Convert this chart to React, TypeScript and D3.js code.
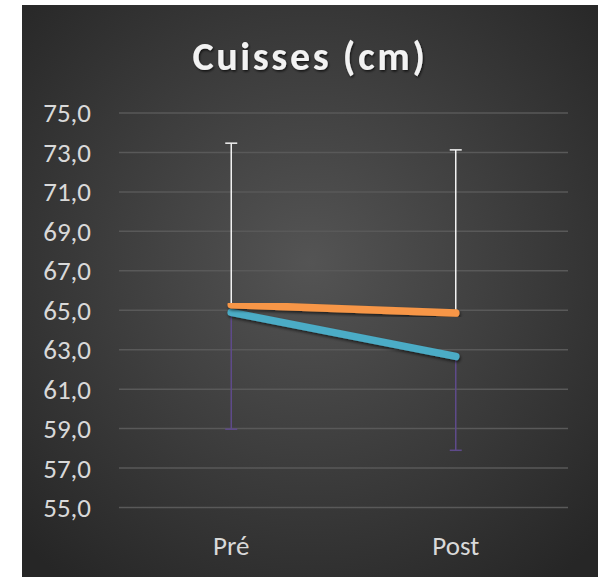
import React from "react";
import * as d3 from "d3";

const categories = ["Pré", "Post"];
const seriesOrange = [65.28, 64.86];
const seriesBlue = [64.89, 62.66];
const errOrangeUp = [8.19, 8.27];
const errBlueDown = [5.92, 4.76];
const yTicks = [55, 57, 59, 61, 63, 65, 67, 69, 71, 73, 75];
const title = "Cuisses (cm)";

export default function App() {
  const W = 602, H = 577;
  const bg = { x: 22, y: 5, w: 576, h: 572 };
  const x = d3.scaleBand().domain(categories).range([119, 568]);
  const y = d3.scaleLinear().domain([55, 75]).range([507.5, 113]);
  const cx = (c: string) => (x(c) as number) + x.bandwidth() / 2;
  const line = d3.line<number>().x((_, i) => cx(categories[i])).y((v) => y(v));
  const font = "Carlito, 'Open Sans', 'Noto Sans', sans-serif";
  const capW = 6;
  return (
    <svg width={W} height={H} style={{ position: "absolute", left: 0, top: 0 }}>
      <defs>
        <radialGradient id="bgGrad" cx="50%" cy="45%" r="70%">
          <stop offset="0%" stopColor="#545454" />
          <stop offset="100%" stopColor="#262626" />
        </radialGradient>
        <filter id="shadow" x="-20%" y="-20%" width="140%" height="160%">
          <feDropShadow dx="1" dy="2" stdDeviation="1.5" floodColor="#000" floodOpacity="0.6" />
        </filter>
        <filter id="tshadow" x="-10%" y="-20%" width="120%" height="160%">
          <feDropShadow dx="1" dy="1.5" stdDeviation="1.2" floodColor="#000" floodOpacity="0.7" />
        </filter>
      </defs>
      <rect x={0} y={0} width={W} height={H} fill="#fff" />
      <rect x={bg.x} y={bg.y} width={bg.w} height={bg.h} fill="url(#bgGrad)" />
      <text x={310} y={70} textAnchor="middle" fill="#f2f2f2" fontFamily={font} fontWeight="bold" fontSize={40} letterSpacing={2.6} filter="url(#tshadow)">
        {title}
      </text>
      {yTicks.map((t) => (
        <g key={t}>
          <line x1={119} x2={568} y1={y(t)} y2={y(t)} stroke="#595959" strokeWidth={1.5} />
          <text x={91} y={y(t)} dy="0.35em" textAnchor="end" fill="#d9d9d9" fontFamily={font} fontSize={27}>
            {d3.format(".1f")(t).replace(".", ",")}
          </text>
        </g>
      ))}
      {categories.map((c) => (
        <text key={c} x={cx(c)} y={546} dy="0.35em" textAnchor="middle" fill="#d9d9d9" fontFamily={font} fontSize={27}>
          {c}
        </text>
      ))}
      {categories.map((c, i) => {
        const xc = cx(c);
        const top = y(seriesOrange[i] + errOrangeUp[i]);
        const bot = y(seriesBlue[i] - errBlueDown[i]);
        return (
          <g key={"e" + c}>
            <line x1={xc} x2={xc} y1={y(seriesOrange[i])} y2={top} stroke="#f2f2f2" strokeWidth={1.5} />
            <line x1={xc - capW} x2={xc + capW} y1={top} y2={top} stroke="#f2f2f2" strokeWidth={1.5} />
            <line x1={xc} x2={xc} y1={y(seriesBlue[i])} y2={bot} stroke="#5e4a8a" strokeWidth={1.5} />
            <line x1={xc - capW} x2={xc + capW} y1={bot} y2={bot} stroke="#5e4a8a" strokeWidth={1.5} />
          </g>
        );
      })}
      <path d={line(seriesBlue) || ""} fill="none" stroke="#4bacc6" strokeWidth={7.5} strokeLinecap="round" filter="url(#shadow)" />
      <path d={line(seriesOrange) || ""} fill="none" stroke="#f79646" strokeWidth={7.5} strokeLinecap="round" filter="url(#shadow)" />
    </svg>
  );
}
